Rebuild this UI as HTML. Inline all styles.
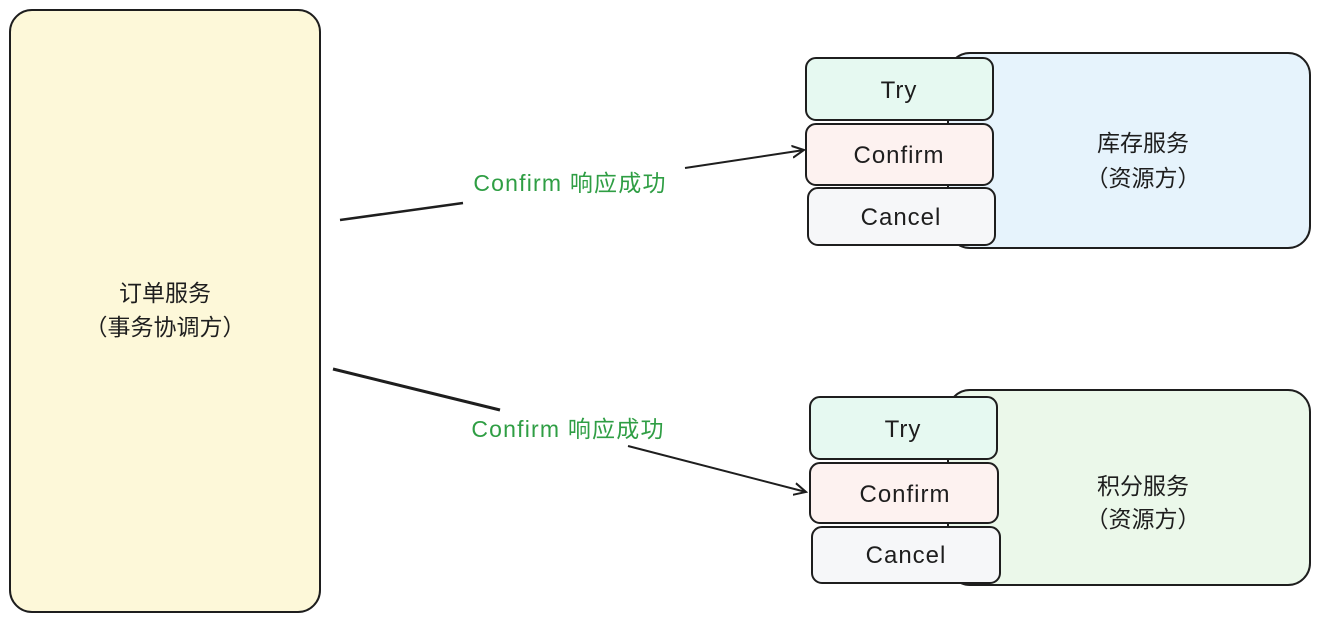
<!DOCTYPE html>
<html><head><meta charset="utf-8"><style>
body{margin:0;width:1320px;height:622px;background:#fff;overflow:hidden;font-family:"Liberation Sans","Noto Sans CJK SC",sans-serif}
</style></head><body>
<svg width="1320" height="622" xmlns="http://www.w3.org/2000/svg" font-family="'Liberation Sans','Noto Sans CJK SC',sans-serif">
<defs><marker id="a" markerWidth="14" markerHeight="14" refX="12" refY="7" orient="auto" markerUnits="userSpaceOnUse"><path d="M0,1 L12,7 L0,13" fill="none" stroke="#1e1e1e" stroke-width="2"/></marker></defs>
<rect x="10" y="10" width="310" height="602" rx="22" fill="#fdf8d9" stroke="#1e1e1e" stroke-width="2"/>
<text x="165" y="301" font-size="23" text-anchor="middle" fill="#1e1e1e">订单服务</text>
<text x="165" y="335" font-size="23" text-anchor="middle" fill="#1e1e1e">（事务协调方）</text>

<rect x="948" y="53" width="362" height="195" rx="22" fill="#e6f3fc" stroke="#1e1e1e" stroke-width="2"/>
<text x="1143" y="151" font-size="23" text-anchor="middle" fill="#1e1e1e">库存服务</text>
<text x="1143" y="186" font-size="23" text-anchor="middle" fill="#1e1e1e">（资源方）</text>
<rect x="806" y="58" width="187" height="62" rx="10" fill="#e6f9f1" stroke="#1e1e1e" stroke-width="2"/>
<text x="899" y="98" font-size="24" letter-spacing="1" text-anchor="middle" fill="#1e1e1e">Try</text>
<rect x="806" y="124" width="187" height="61" rx="10" fill="#fdf2f0" stroke="#1e1e1e" stroke-width="2"/>
<text x="899" y="163" font-size="24" letter-spacing="1" text-anchor="middle" fill="#1e1e1e">Confirm</text>
<rect x="808" y="188" width="187" height="57" rx="10" fill="#f6f7f9" stroke="#1e1e1e" stroke-width="2"/>
<text x="901" y="225" font-size="24" letter-spacing="1" text-anchor="middle" fill="#1e1e1e">Cancel</text>

<rect x="948" y="390" width="362" height="195" rx="22" fill="#ebf8ea" stroke="#1e1e1e" stroke-width="2"/>
<text x="1143" y="494" font-size="23" text-anchor="middle" fill="#1e1e1e">积分服务</text>
<text x="1143" y="527" font-size="23" text-anchor="middle" fill="#1e1e1e">（资源方）</text>
<rect x="810" y="397" width="187" height="62" rx="10" fill="#e6f9f1" stroke="#1e1e1e" stroke-width="2"/>
<text x="903" y="437" font-size="24" letter-spacing="1" text-anchor="middle" fill="#1e1e1e">Try</text>
<rect x="810" y="463" width="188" height="60" rx="10" fill="#fdf2f0" stroke="#1e1e1e" stroke-width="2"/>
<text x="905" y="502" font-size="24" letter-spacing="1" text-anchor="middle" fill="#1e1e1e">Confirm</text>
<rect x="812" y="527" width="188" height="56" rx="10" fill="#f6f7f9" stroke="#1e1e1e" stroke-width="2"/>
<text x="906" y="563" font-size="24" letter-spacing="1" text-anchor="middle" fill="#1e1e1e">Cancel</text>

<line x1="340" y1="220" x2="463" y2="203" stroke="#1e1e1e" stroke-width="2.5"/>
<line x1="685" y1="168" x2="804" y2="150" stroke="#1e1e1e" stroke-width="2" marker-end="url(#a)"/>
<text x="570" y="191" font-size="23" letter-spacing="1.2" text-anchor="middle" fill="#2f9e44">Confirm 响应成功</text>
<line x1="333" y1="369" x2="500" y2="410" stroke="#1e1e1e" stroke-width="3"/>
<line x1="628" y1="446" x2="806" y2="492" stroke="#1e1e1e" stroke-width="2" marker-end="url(#a)"/>
<text x="568" y="437" font-size="23" letter-spacing="1.2" text-anchor="middle" fill="#2f9e44">Confirm 响应成功</text>
</svg>
</body></html>
